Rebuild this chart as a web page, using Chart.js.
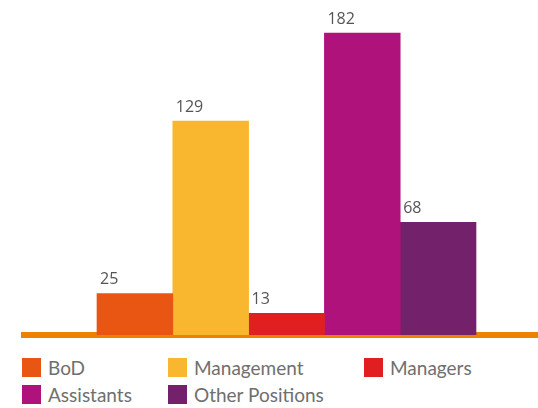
<!DOCTYPE html>
<html>
<head>
<meta charset="utf-8">
<script src="https://cdn.jsdelivr.net/npm/chart.js@4/dist/chart.umd.min.js"></script>
<style>
  html, body { margin: 0; padding: 0; background: #fff; }
  #wrap { position: relative; width: 538px; height: 408px; overflow: hidden; }
  #grafico { position: absolute; left: 0; top: 0; }
  #leyenda {
    position: absolute; left: 22px; top: 358px;
    display: grid; grid-template-columns: 146px 196px auto;
    row-gap: 8px;
    font-family: Lato, "Open Sans", sans-serif; font-size: 19px; color: #6f6f6f;
  }
  .item { display: flex; align-items: center; height: 19px; white-space: nowrap; }
  .caja { width: 19px; height: 19px; margin-right: 7px; flex: none; }
</style>
</head>
<body>
<div id="wrap">
  <canvas id="grafico" width="538" height="339"></canvas>
  <div id="leyenda"></div>
</div>
<script>
// categorias y valores
const categorias = ['BoD', 'Management', 'Managers', 'Assistants', 'Other Positions'];
const valores = [25, 129, 13, 182, 68];
const colores = ['#e95513', '#f9b72f', '#e11f21', '#b0127c', '#72216a'];
const colorBase = '#ee8100';

// un dataset por categoria, cada barra en su propio indice
const datasets = categorias.map((nombre, i) => ({
  label: nombre,
  data: [{ x: i, y: valores[i] }],
  backgroundColor: colores[i],
  borderWidth: 0,
  grouped: false,
  barPercentage: 1,
  categoryPercentage: 1
}));

// etiquetas de valor sobre cada barra
const etiquetasValor = {
  id: 'etiquetasValor',
  afterDatasetsDraw(chart) {
    const ctx = chart.ctx;
    ctx.save();
    ctx.font = '16px "Open Sans", sans-serif';
    ctx.fillStyle = '#555';
    ctx.textAlign = 'left';
    ctx.textBaseline = 'middle';
    chart.data.datasets.forEach((ds, i) => {
      const barra = chart.getDatasetMeta(i).data[0];
      const izq = barra.x - barra.width / 2;
      ctx.fillText(String(ds.data[0].y), izq + 3, barra.y - 14);
    });
    ctx.restore();
  }
};

const chart = new Chart(document.getElementById('grafico'), {
  type: 'bar',
  data: { datasets: datasets },
  options: {
    responsive: false,
    animation: false,
    layout: { padding: { left: 24, right: 0, top: 0, bottom: 4 } },
    plugins: { legend: { display: false }, tooltip: { enabled: false } },
    scales: {
      x: {
        type: 'linear',
        min: -1.463,
        max: 5.318,
        z: 1,
        grid: { display: false, drawTicks: false },
        ticks: { display: false },
        border: { display: true, color: colorBase, width: 6 },
        afterBuildTicks: (scale) => { scale.ticks = []; }
      },
      y: {
        display: false,
        min: 0,
        max: 202
      }
    }
  },
  plugins: [etiquetasValor]
});

// leyenda en tres columnas
const leyenda = document.getElementById('leyenda');
chart.data.datasets.forEach((ds) => {
  const item = document.createElement('div');
  item.className = 'item';
  const caja = document.createElement('span');
  caja.className = 'caja';
  caja.style.background = ds.backgroundColor;
  const texto = document.createElement('span');
  texto.textContent = ds.label;
  item.appendChild(caja);
  item.appendChild(texto);
  leyenda.appendChild(item);
});
</script>
</body>
</html>
